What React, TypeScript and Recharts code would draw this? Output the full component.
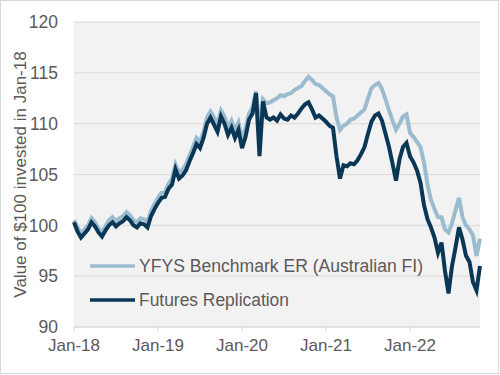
import React from "react";
import { LineChart, Line, XAxis, YAxis, CartesianGrid } from "recharts";

// half-month steps from Jan-18
const futures = [
  100.3, 99.4, 98.8, 99.2, 99.6, 100.3, 99.9, 99.3, 98.9, 99.5,
  100.0, 100.3, 99.9, 100.2, 100.4, 100.8, 100.5, 100.0, 99.8, 100.2,
  100.1, 99.8, 100.9, 101.6, 102.2, 102.7, 102.8, 103.6, 104.0, 105.5,
  104.6, 104.9, 105.4, 106.3, 107.1, 108.0, 107.6, 108.6, 110.0, 110.6,
  109.9, 109.2, 110.7, 110.0, 108.9, 109.6, 108.6, 109.4, 107.6, 108.7,
  110.4, 111.0, 113.0, 106.8, 112.2, 110.6, 110.4, 110.6, 110.3, 110.9,
  110.5, 110.4, 110.8, 110.6, 111.0, 111.5, 111.9, 112.1, 111.4, 110.6,
  110.8, 110.5, 110.2, 109.8, 109.6, 106.8, 104.6, 105.9, 105.8, 106.1,
  106.0, 106.4, 107.0, 107.7, 109.0, 110.2, 110.8, 111.0, 110.3, 109.0,
  107.7, 106.1, 104.4, 106.5, 107.7, 108.1, 106.8, 106.2, 105.4, 104.2,
  102.0, 100.6, 99.8, 98.8, 97.3, 98.3, 95.5, 93.3, 96.0, 97.8,
  99.8, 98.6, 97.0, 96.4, 94.4, 93.6, 96.0,
];

const benchmark = [
  100.5, 99.8, 99.2, 99.6, 100.0, 100.7, 100.3, 99.7, 99.4, 99.9,
  100.5, 100.8, 100.4, 100.7, 100.9, 101.3, 101.0, 100.5, 100.3, 100.7,
  100.6, 100.4, 101.4, 102.1, 102.7, 103.2, 103.3, 104.1, 104.6, 106.0,
  105.2, 105.5, 106.0, 106.9, 107.7, 108.6, 108.2, 109.2, 110.6, 111.2,
  110.6, 110.0, 111.3, 110.7, 109.6, 110.3, 109.3, 110.1, 108.5, 109.5,
  111.0, 111.6, 113.2, 109.6, 112.4, 112.0, 112.1, 112.3, 112.5, 112.8,
  112.7, 112.9, 113.0, 113.3, 113.5, 113.7, 114.2, 114.6, 114.3, 113.9,
  113.8, 113.5, 113.2, 112.9, 112.7, 110.6, 109.4, 109.8, 110.0, 110.4,
  110.5, 110.8, 111.1, 111.4, 112.5, 113.5, 113.8, 114.0, 113.4, 112.4,
  111.3, 110.3, 109.4, 110.0, 110.7, 110.9, 109.1, 108.7, 108.2, 107.7,
  106.2, 104.0, 102.5, 101.6, 100.8, 100.8, 99.6, 99.3, 100.2, 101.5,
  102.7, 100.8, 100.0, 99.6, 99.0, 97.0, 98.7,
];

const tickMonths = [0, 12, 24, 36, 48];
const tickLabels = ["Jan-18", "Jan-19", "Jan-20", "Jan-21", "Jan-22"];
const yTicks = [90, 95, 100, 105, 110, 115, 120];

const seriesNames = ["YFYS Benchmark ER (Australian FI)", "Futures Replication"];
const seriesColors = ["#9bbccf", "#0b3757"];
const legendWidths = [284, 150];

const data = futures.map((v, i) => ({
  m: i / 2,
  futures: v,
  benchmark: benchmark[i],
}));

const font = "'Liberation Sans', Arial, sans-serif";
const textColor = "#5e5858";

export default function App() {
  return (
    <div
      style={{
        position: "absolute",
        left: 0,
        top: 0,
        width: 500,
        height: 375,
        fontFamily: font,
      }}
    >
      <div
        style={{
          position: "absolute",
          left: 0,
          top: 0,
          width: 497,
          height: 372,
          border: "1px solid #d9d9d9",
        }}
      />
      <LineChart
        width={500}
        height={375}
        data={data}
        margin={{ top: 22, right: 20, left: 0, bottom: 0 }}
      >
        <CartesianGrid
          vertical={false}
          stroke="#d9d9d9"
          strokeWidth={1}
          fill="#f2f2f2"
        />
        <XAxis
          dataKey="m"
          type="number"
          domain={[0, 58]}
          ticks={tickMonths}
          tickFormatter={(v) => tickLabels[tickMonths.indexOf(v)]}
          height={48}
          tickSize={5}
          tickMargin={7}
          stroke="#d9d9d9"
          tick={{ fill: textColor, fontSize: 17, fontFamily: font }}
        />
        <YAxis
          domain={[90, 120]}
          ticks={yTicks}
          width={74}
          axisLine={false}
          tickLine={false}
          tickSize={0}
          tickMargin={16}
          tick={{ fill: textColor, fontSize: 17.5, fontFamily: font }}
          label={{
            value: "Value of $100 invested in Jan-18",
            angle: -90,
            position: "insideLeft",
            offset: 20,
            style: { textAnchor: "middle", fill: textColor, fontSize: 17, fontFamily: font },
          }}
        />
        <Line
          type="linear"
          dataKey="benchmark"
          stroke={seriesColors[0]}
          strokeWidth={4}
          dot={false}
          isAnimationActive={false}
        />
        <Line
          type="linear"
          dataKey="futures"
          stroke={seriesColors[1]}
          strokeWidth={4}
          dot={false}
          isAnimationActive={false}
        />
      </LineChart>
      {/* legend sits inside the plot, bottom left */}
      <svg
        width={500}
        height={375}
        style={{ position: "absolute", left: 0, top: 0, pointerEvents: "none" }}
      >
        {seriesNames.map((name, i) => (
          <g key={name}>
            <line
              x1={90}
              x2={135}
              y1={266 + i * 34}
              y2={266 + i * 34}
              stroke={seriesColors[i]}
              strokeWidth={3.5}
            />
            <text
              x={139}
              y={266 + i * 34}
              dy="0.35em"
              fill={textColor}
              fontSize={17.5}
              fontFamily={font}
              textLength={legendWidths[i]}
              lengthAdjust="spacingAndGlyphs"
            >
              {name}
            </text>
          </g>
        ))}
      </svg>
    </div>
  );
}
